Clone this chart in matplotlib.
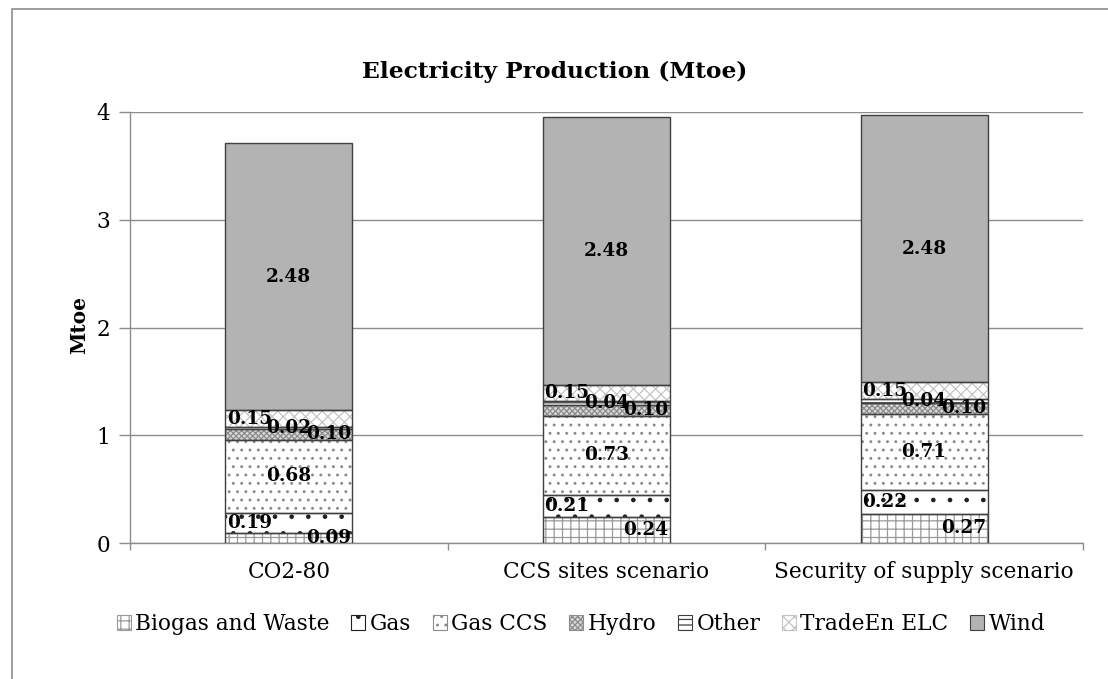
import matplotlib
matplotlib.use("Agg")
import matplotlib.pyplot as plt
from matplotlib.patches import Patch, Rectangle
import numpy as np

scenarios = ["CO2-80", "CCS sites scenario", "Security of supply scenario"]
series = ["Biogas and Waste", "Gas", "Gas CCS", "Hydro", "Other", "TradeEn ELC", "Wind"]
biogas = [0.09, 0.24, 0.27]
gas = [0.19, 0.21, 0.22]
gas_ccs = [0.68, 0.73, 0.71]
hydro = [0.10, 0.10, 0.10]
other = [0.02, 0.04, 0.04]
trade_elc = [0.15, 0.15, 0.15]
wind = [2.48, 2.48, 2.48]
values = [biogas, gas, gas_ccs, hydro, other, trade_elc, wind]

# fill, hatch, hatch colour, label placement inside the bar
styles = [
    ("white", "++", "#9a9a9a", "right"),
    ("white", ".", "#202020", "left"),
    ("white", "..", "#8a8a8a", "center"),
    ("#d8d8d8", "xxxxxx", "#8c8c8c", "right"),
    ("white", "---", "#404040", "center"),
    ("white", "xxx", "#c4c4c4", "left"),
    ("#b3b3b3", "", "#b3b3b3", "center"),
]

FONT = "DejaVu Serif"
plt.rcParams["font.family"] = FONT
plt.rcParams["hatch.linewidth"] = 0.9

W, H = 1108, 679
fig = plt.figure(figsize=(W / 100, H / 100), dpi=100)
ax = fig.add_axes([130 / W, 1 - 543 / H, (1083 - 130) / W, (543 - 112) / H])

x = np.arange(len(scenarios))
width = 0.4
bottom = np.zeros(len(scenarios))
edge = "#404040"
handles = []
for name, vals, (fc, hatch, hc, place) in zip(series, values, styles):
    vals = np.array(vals)
    ax.bar(x, vals, width, bottom=bottom, color=fc, hatch=hatch,
           edgecolor=hc, linewidth=0, zorder=2)
    ax.bar(x, vals, width, bottom=bottom, fill=False, edgecolor=edge,
           linewidth=1.0, zorder=3)
    for xi, b, v in zip(x, bottom, vals):
        yc = b + v / 2
        if place == "left":
            xp, ha = xi - width / 2 + 0.005, "left"
        elif place == "right":
            xp, ha = xi + width / 2 - 0.005, "right"
        else:
            xp, ha = xi, "center"
        ax.text(xp, yc, f"{v:.2f}", ha=ha, va="center", fontsize=13.3,
                fontweight="bold", color="black", zorder=4)
    bottom += vals
    handles.append(Patch(facecolor=fc, hatch=hatch, edgecolor=hc if hatch else edge,
                         linewidth=0.8, label=name))

ax.set_xlim(-0.5, 2.5)
ax.set_ylim(0, 4)
ax.set_yticks([0, 1, 2, 3, 4])
ax.yaxis.grid(True, color="#8c8c8c", linewidth=1.0, zorder=0)
ax.set_axisbelow(True)
ax.set_xticks(x)
ax.set_xticklabels(scenarios, fontsize=15.6)
ax.set_xticks([-0.5, 0.5, 1.5, 2.5], minor=True)
ax.tick_params(axis="x", which="major", length=0, pad=13)
ax.tick_params(axis="x", which="minor", length=5, color="#8c8c8c", width=1)
ax.tick_params(axis="y", length=8, color="#8c8c8c", width=1, labelsize=15.6, pad=6)
for s in ["top", "right"]:
    ax.spines[s].set_visible(False)
for s in ["left", "bottom"]:
    ax.spines[s].set_color("#8c8c8c")
    ax.spines[s].set_linewidth(1.0)

ax.set_ylabel("Mtoe", fontsize=14.5, fontweight="bold")
ax.yaxis.set_label_coords((89 - 130) / (1083 - 130), 0.505)
fig.text(555 / W, 1 - 72 / H, "Electricity Production (Mtoe)", ha="center",
         va="center", fontsize=16.8, fontweight="bold")

fig.legend(handles=handles, loc="center", bbox_to_anchor=(581 / W, 1 - 624 / H),
           ncol=7, frameon=False, fontsize=15.6, handlelength=0.65, handleheight=0.65,
           handletextpad=0.2, columnspacing=1.0, borderaxespad=0)

# outer chart frame
fig.patches.append(Rectangle((12 / W, -0.1), 1.2, 1 - 9 / H + 0.1, transform=fig.transFigure,
                             fill=False, edgecolor="#8c8c8c", linewidth=1.2))

fig.savefig("out.png", dpi=100)
